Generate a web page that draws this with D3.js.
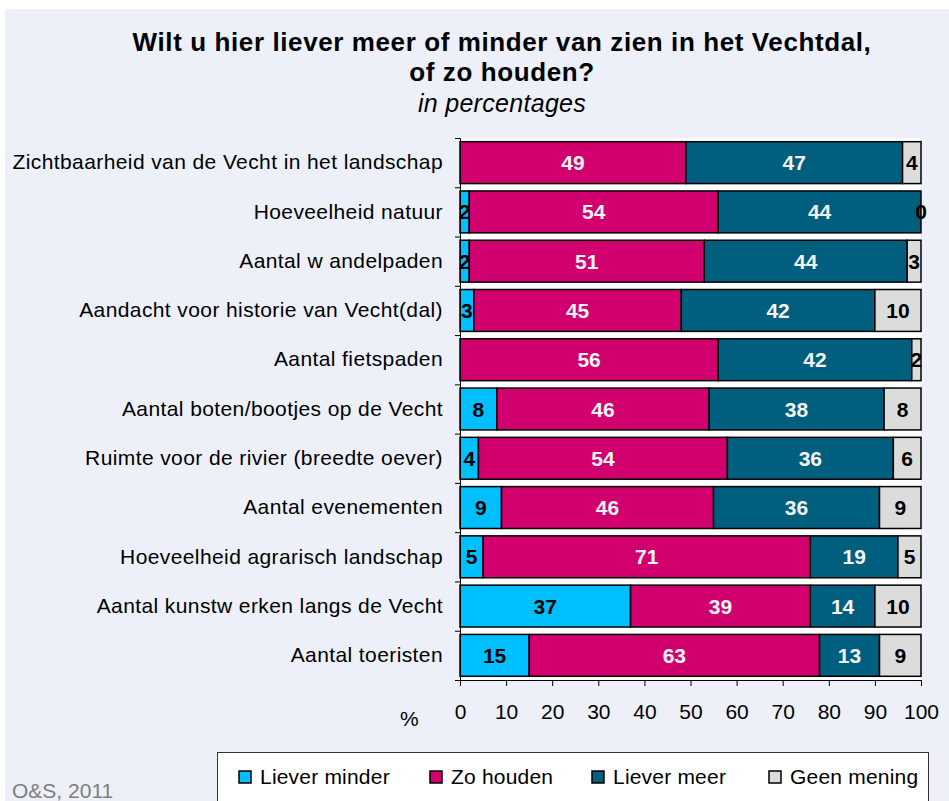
<!DOCTYPE html>
<html>
<head>
<meta charset="utf-8">
<script src="https://cdn.jsdelivr.net/npm/d3@7"></script>
<style>
  body { margin: 0; background: #fff; }
  svg { display: block; font-family: "Liberation Sans", Arial, sans-serif; }
</style>
</head>
<body>
<svg id="chart"></svg>
<script>
// categories, top to bottom
const categories = [
    "Zichtbaarheid van de Vecht in het landschap",
    "Hoeveelheid natuur",
    "Aantal w andelpaden",
    "Aandacht voor historie van Vecht(dal)",
    "Aantal fietspaden",
    "Aantal boten/bootjes op de Vecht",
    "Ruimte voor de rivier (breedte oever)",
    "Aantal evenementen",
    "Hoeveelheid agrarisch landschap",
    "Aantal kunstw erken langs de Vecht",
    "Aantal toeristen"
];

const seriesNames = ["Liever minder", "Zo houden", "Liever meer", "Geen mening"];

// null = no value shown
const lieverMinder = [null, 2, 2, 3, null, 8, 4, 9, 5, 37, 15];
const zoHouden     = [49, 54, 51, 45, 56, 46, 54, 46, 71, 39, 63];
const lieverMeer   = [47, 44, 44, 42, 42, 38, 36, 36, 19, 14, 13];
const geenMening   = [4, 0, 3, 10, 2, 8, 6, 9, 5, 10, 9];

const xTicks = [0, 10, 20, 30, 40, 50, 60, 70, 80, 90, 100];

const colors = ["#00BFFF", "#D2006E", "#005E7E", "#DCDCDC"];
const labelColors = ["#000", "#F4F4F4", "#F4F4F4", "#000"];

const width = 949, height = 801;

const svg = d3.select("#chart")
    .attr("width", width)
    .attr("height", height);

// background
svg.append("rect")
    .attr("x", 5).attr("y", 9)
    .attr("width", width - 5).attr("height", height - 9)
    .attr("fill", "#EDF0F8");

// title
const title = svg.append("g").attr("text-anchor", "middle");
title.append("text")
    .attr("x", 502).attr("y", 51)
    .attr("font-size", 26).attr("font-weight", "bold")
    .attr("letter-spacing", 0.6)
    .text("Wilt u hier liever meer of minder van zien in het Vechtdal,");
title.append("text")
    .attr("x", 502).attr("y", 81)
    .attr("font-size", 26).attr("font-weight", "bold")
    .attr("letter-spacing", 0.6)
    .text("of zo houden?");
title.append("text")
    .attr("x", 502).attr("y", 112)
    .attr("font-size", 25).attr("font-style", "italic")
    .attr("letter-spacing", 0.3)
    .text("in percentages");

// scales
const x = d3.scaleLinear().domain([0, 100]).range([460, 921]);
const y = d3.scaleBand()
    .domain(categories)
    .range([138, 680])
    .paddingInner(0.15)
    .paddingOuter(0.075);

// plot area
svg.append("rect")
    .attr("x", x(0)).attr("y", 138)
    .attr("width", x(100) - x(0)).attr("height", 680 - 138)
    .attr("fill", "#fff");

// stacked data
const table = categories.map((c, i) => ({
    cat: c,
    values: [lieverMinder[i], zoHouden[i], lieverMeer[i], geenMening[i]]
}));

const segments = [];
table.forEach(row => {
    let acc = 0;
    row.values.forEach((v, s) => {
        if (v === null) return;
        segments.push({ cat: row.cat, s: s, v: v, x0: acc, x1: acc + v });
        acc += v;
    });
});

svg.append("g")
    .selectAll("rect")
    .data(segments.filter(d => d.v > 0))
    .enter()
    .append("rect")
    .attr("x", d => x(d.x0))
    .attr("y", d => y(d.cat))
    .attr("width", d => x(d.x1) - x(d.x0))
    .attr("height", y.bandwidth())
    .attr("fill", d => colors[d.s])
    .attr("stroke", "#000")
    .attr("stroke-width", 1.5);

svg.append("g")
    .selectAll("text")
    .data(segments)
    .enter()
    .append("text")
    .attr("x", d => x((d.x0 + d.x1) / 2))
    .attr("y", d => y(d.cat) + y.bandwidth() / 2)
    .attr("dy", "0.36em")
    .attr("text-anchor", "middle")
    .attr("font-size", 21)
    .attr("font-weight", "bold")
    .attr("fill", d => labelColors[d.s])
    .text(d => d.v);

// y axis: boundary ticks + category labels
const yEdges = d3.scaleLinear().domain([0, categories.length]).range([138, 680]);
svg.append("g")
    .attr("transform", `translate(${x(0)},0)`)
    .call(d3.axisLeft(yEdges).ticks(categories.length).tickSize(5).tickFormat(""))
    .call(g => g.select(".domain").attr("stroke", "#000"));

svg.append("g")
    .attr("transform", `translate(${x(0)},0)`)
    .call(d3.axisLeft(y).tickSize(0).tickPadding(17))
    .call(g => g.select(".domain").remove())
    .call(g => g.selectAll("text")
        .attr("font-size", 21)
        .attr("letter-spacing", 0.4)
        .attr("fill", "#000")
        .attr("font-family", "'Liberation Sans', Arial, sans-serif"));

// x axis
svg.append("g")
    .attr("transform", "translate(0,680)")
    .call(d3.axisBottom(x).tickValues(xTicks).tickSize(6).tickPadding(18).tickSizeOuter(6))
    .call(g => g.selectAll("line, .domain").attr("stroke", "#000"))
    .call(g => g.selectAll("text")
        .attr("font-size", 21)
        .attr("fill", "#000")
        .attr("font-family", "'Liberation Sans', Arial, sans-serif"));

svg.append("text")
    .attr("x", 400).attr("y", 726)
    .attr("font-size", 21)
    .text("%");

// legend
const legend = svg.append("g");
legend.append("rect")
    .attr("x", 217.5).attr("y", 752.5)
    .attr("width", 711).attr("height", 60)
    .attr("fill", "#fff")
    .attr("stroke", "#333");

const legendX = [239, 430, 592, 769];
seriesNames.forEach((name, i) => {
    legend.append("rect")
        .attr("x", legendX[i]).attr("y", 771)
        .attr("width", 12).attr("height", 12)
        .attr("fill", colors[i])
        .attr("stroke", "#000")
        .attr("stroke-width", 1.5);
    legend.append("text")
        .attr("x", legendX[i] + 21).attr("y", 784)
        .attr("font-size", 21)
        .attr("letter-spacing", 0.2)
        .text(name);
});

// source
svg.append("text")
    .attr("x", 12).attr("y", 798)
    .attr("font-size", 21)
    .attr("fill", "#7F7F7F")
    .text("O&S, 2011");
</script>
</body>
</html>
